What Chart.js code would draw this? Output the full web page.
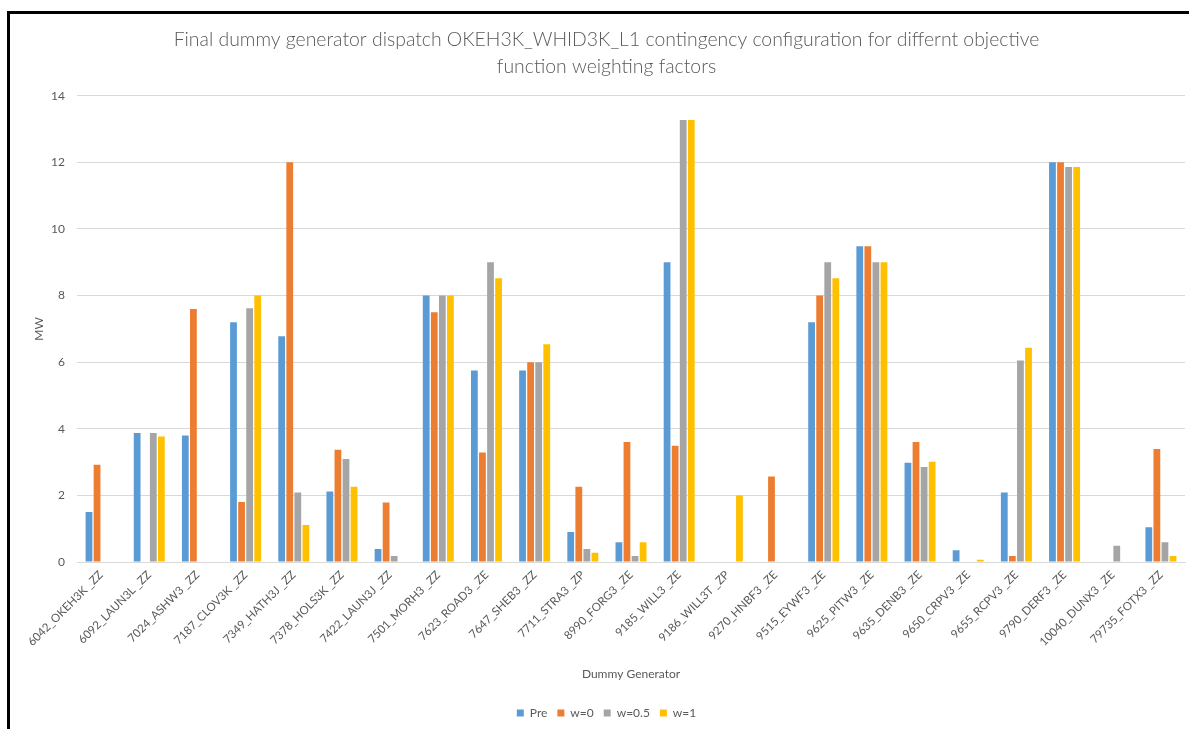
<!DOCTYPE html>
<html>
<head>
<meta charset="utf-8">
<title>Final dummy generator dispatch</title>
<script src="https://cdn.jsdelivr.net/npm/chart.js@4/dist/chart.umd.min.js"></script>
<style>
  html, body { margin: 0; padding: 0; background: #ffffff; }
  #wrap { position: relative; width: 1189px; height: 729px; overflow: hidden; }
  #chart { position: absolute; left: 0; top: 0; }
  .edge { position: absolute; background: #000000; }
  #edgeLeft { left: 7px; top: 11px; width: 3px; height: 718px; }
  #edgeTop { left: 7px; top: 11px; width: 1182px; height: 3px; }
</style>
</head>
<body>
<div id="wrap">
  <canvas id="chart" width="1189" height="729"></canvas>
  <div class="edge" id="edgeLeft"></div>
  <div class="edge" id="edgeTop"></div>
</div>
<script>
// Dummy generators (x categories)
const generators = [
  "6042_OKEH3K _ZZ", "6092_LAUN3L _ZZ", "7024_ASHW3 _ZZ", "7187_CLOV3K _ZZ",
  "7349_HATH3J _ZZ", "7378_HOLS3K _ZZ", "7422_LAUN3J _ZZ", "7501_MORH3 _ZZ",
  "7623_ROAD3 _ZE", "7647_SHEB3 _ZZ", "7711_STRA3 _ZP", "8990_FORG3 _ZE",
  "9185_WILL3 _ZE", "9186_WILL3T _ZP", "9270_HNBF3 _ZE", "9515_EYWF3 _ZE",
  "9625_PITW3 _ZE", "9635_DENB3 _ZE", "9650_CRPV3 _ZE", "9655_RCPV3 _ZE",
  "9790_DERF3 _ZE", "10040_DUNX3 _ZE", "79735_FOTX3 _ZZ"
];

// Dispatch in MW per weighting factor (null = no dispatch)
const pre   = [1.5, 3.87, 3.8, 7.2, 6.78, 2.12, 0.39, 8.0, 5.75, 5.75, 0.9, 0.59, 9.0, null, null, 7.2, 9.48, 2.98, 0.35, 2.09, 12.0, null, 1.04];
const w0    = [2.92, null, 7.6, 1.8, 12.0, 3.37, 1.79, 7.5, 3.29, 6.0, 2.26, 3.6, 3.49, null, 2.57, 8.0, 9.48, 3.6, null, 0.18, 12.0, null, 3.39];
const w05   = [null, 3.87, null, 7.62, 2.09, 3.09, 0.18, 8.0, 9.0, 6.0, 0.39, 0.18, 13.27, null, null, 9.0, 9.0, 2.85, null, 6.05, 11.86, 0.49, 0.59];
const w1    = [null, 3.77, null, 8.0, 1.11, 2.26, null, 8.0, 8.52, 6.54, 0.28, 0.59, 13.27, 2.0, null, 8.52, 9.0, 3.01, 0.07, 6.43, 11.86, null, 0.18];

// Y axis ticks
const yTicks = [0, 2, 4, 6, 8, 10, 12, 14];

const seriesNames = ["Pre", "w=0", "w=0.5", "w=1"];
const seriesColors = ["#5B9BD5", "#ED7D31", "#A5A5A5", "#FFC000"];
const seriesData = [pre, w0, w05, w1];

const textGray = "#595959";
const fontFamily = "Lato, 'Open Sans', 'Liberation Sans', sans-serif";

const datasets = seriesNames.map((name, i) => ({
  label: name,
  data: seriesData[i],
  backgroundColor: seriesColors[i],
  borderWidth: 0,
  categoryPercentage: 0.67,
  barPercentage: 0.84
}));

new Chart(document.getElementById("chart"), {
  type: "bar",
  data: { labels: generators, datasets: datasets },
  options: {
    responsive: false,
    animation: false,
    layout: { padding: { left: 28, right: 4, top: 0, bottom: 0 } },
    plugins: {
      tooltip: { enabled: false },
      title: {
        display: true,
        text: [
          "Final dummy generator dispatch OKEH3K_WHID3K_L1 contingency configuration for differnt objective",
          "function weighting factors"
        ],
        color: textGray,
        font: { family: fontFamily, size: 19.4, weight: 300, lineHeight: 1.36 },
        padding: { top: 27, bottom: 16 }
      },
      legend: {
        position: "bottom",
        labels: {
          color: textGray,
          font: { family: fontFamily, size: 12 },
          boxWidth: 7,
          boxHeight: 7,
          padding: 10
        }
      }
    },
    scales: {
      x: {
        grid: { display: false, drawTicks: false },
        border: { display: true, color: "#d9d9d9", width: 1 },
        ticks: {
          color: textGray,
          font: { family: fontFamily, size: 11.5 },
          minRotation: 45,
          maxRotation: 45,
          autoSkip: false,
          padding: 6
        },
        title: {
          display: true,
          text: "Dummy Generator",
          color: textGray,
          font: { family: fontFamily, size: 12 },
          padding: { top: 4, bottom: 16 }
        },
        afterFit: (scale) => { scale.height = 135; }
      },
      y: {
        min: yTicks[0],
        max: yTicks[yTicks.length - 1],
        afterBuildTicks: (scale) => { scale.ticks = yTicks.map(v => ({ value: v })); },
        grid: { color: "#d9d9d9", lineWidth: 1, drawTicks: false },
        border: { display: false },
        ticks: {
          color: textGray,
          font: { family: fontFamily, size: 12 },
          padding: 12
        },
        title: {
          display: true,
          text: "MW",
          color: textGray,
          font: { family: fontFamily, size: 12 },
          padding: { top: 4, bottom: 4 }
        },
        afterFit: (scale) => { scale.width = 49; }
      }
    }
  }
});
</script>
</body>
</html>
